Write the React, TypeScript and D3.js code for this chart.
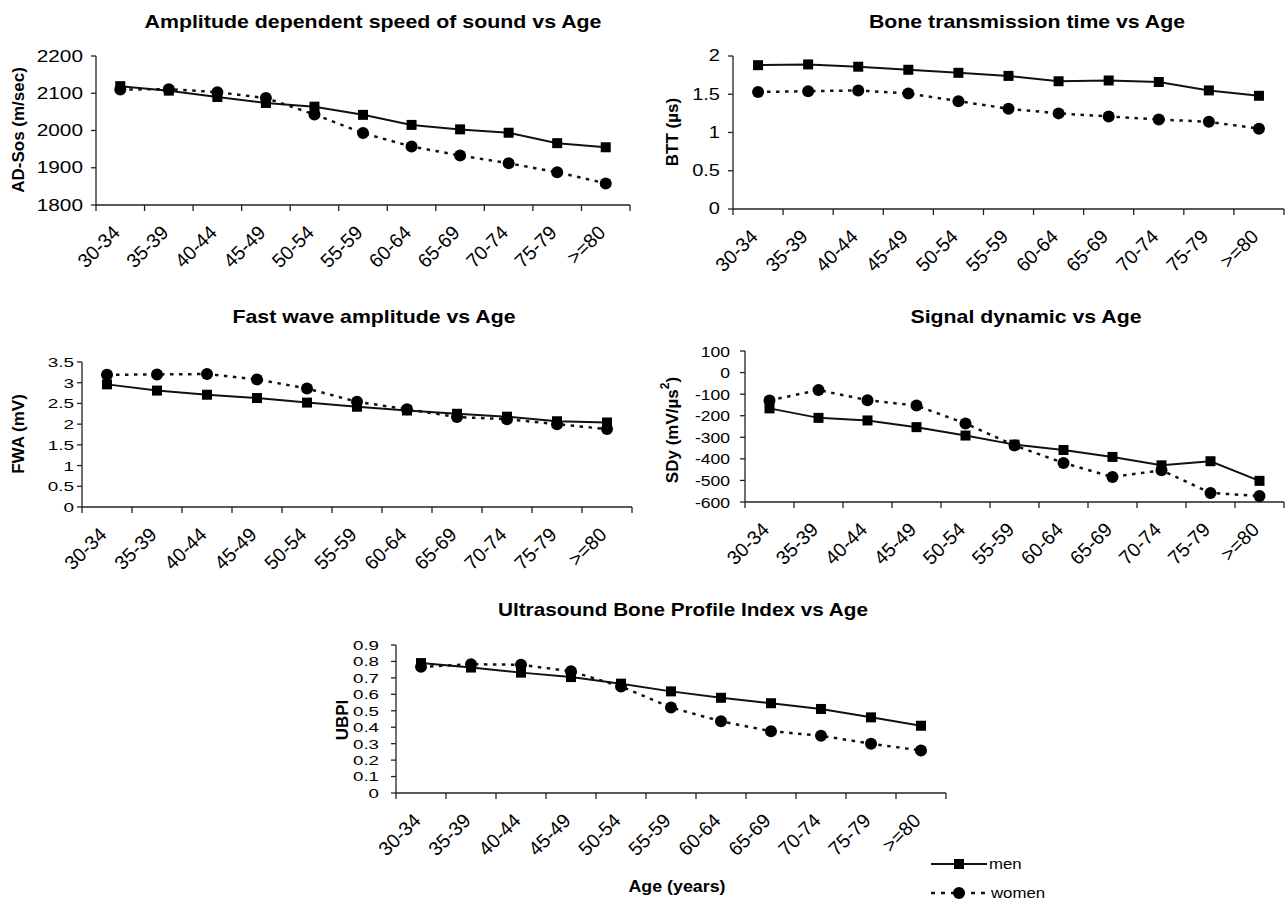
import React from "react";
import * as d3 from "d3";

const ageGroups = ["30-34", "35-39", "40-44", "45-49", "50-54", "55-59", "60-64", "65-69", "70-74", "75-79", ">=80"];

const adSosMen = [2119, 2107, 2090, 2074, 2064, 2042, 2015, 2003, 1994, 1966, 1955];
const adSosWomen = [2110, 2111, 2103, 2087, 2043, 1993, 1957, 1933, 1912, 1888, 1858];
const adSosTicks = [1800, 1900, 2000, 2100, 2200];

const bttMen = [1.88, 1.89, 1.86, 1.82, 1.78, 1.74, 1.67, 1.68, 1.66, 1.55, 1.48];
const bttWomen = [1.53, 1.54, 1.55, 1.51, 1.41, 1.31, 1.25, 1.21, 1.17, 1.14, 1.05];
const bttTicks = [0, 0.5, 1, 1.5, 2];

const fwaMen = [2.96, 2.81, 2.71, 2.63, 2.52, 2.42, 2.33, 2.25, 2.18, 2.07, 2.04];
const fwaWomen = [3.19, 3.2, 3.21, 3.08, 2.86, 2.54, 2.36, 2.17, 2.12, 2.0, 1.88];
const fwaTicks = [0, 0.5, 1, 1.5, 2, 2.5, 3, 3.5];

const sdyMen = [-166, -210, -222, -253, -292, -334, -359, -391, -430, -411, -502];
const sdyWomen = [-129, -81, -128, -153, -236, -338, -419, -484, -453, -558, -572];
const sdyTicks = [-600, -500, -400, -300, -200, -100, 0, 100];

const ubpiMen = [0.79, 0.763, 0.732, 0.705, 0.665, 0.618, 0.579, 0.546, 0.511, 0.46, 0.409];
const ubpiWomen = [0.767, 0.783, 0.78, 0.74, 0.648, 0.52, 0.436, 0.376, 0.348, 0.3, 0.258];
const ubpiTicks = [0, 0.1, 0.2, 0.3, 0.4, 0.5, 0.6, 0.7, 0.8, 0.9];

const FONT = "'Liberation Sans', Arial, Helvetica, sans-serif";

const panels = [
  {
    title: "Amplitude dependent speed of sound vs Age", yLabel: "AD-Sos (m/sec)",
    men: adSosMen, women: adSosWomen, ticks: adSosTicks,
    x0: 96, x1: 630, yTop: 56, yBot: 205,
    titleX: 373, titleY: 28, titleLen: 457, labX: 18, labY: 130,
    fs: 16, sx: 1.3, gap: 13,
  },
  {
    title: "Bone transmission time vs Age", yLabel: "BTT (\u00b5s)",
    men: bttMen, women: bttWomen, ticks: bttTicks,
    x0: 733, x1: 1284, yTop: 56, yBot: 209,
    titleX: 1027, titleY: 28, titleLen: 316, labX: 672, labY: 132,
    fs: 16, sx: 1.25, gap: 13,
  },
  {
    title: "Fast wave amplitude vs Age", yLabel: "FWA (mV)",
    men: fwaMen, women: fwaWomen, ticks: fwaTicks,
    x0: 82, x1: 632, yTop: 362, yBot: 507,
    titleX: 374, titleY: 323, titleLen: 283, labX: 18, labY: 434,
    fs: 13.5, sx: 1.4, gap: 8,
  },
  {
    title: "Signal dynamic vs Age", yLabel: "SDy (mV/\u00b5s",
    men: sdyMen, women: sdyWomen, ticks: sdyTicks,
    x0: 745, x1: 1284, yTop: 351, yBot: 502,
    titleX: 1026, titleY: 323, titleLen: 231, labX: 672, labY: 430,
    fs: 15, sx: 1.17, gap: 15,
  },
  {
    title: "Ultrasound Bone Profile Index vs Age", yLabel: "UBPI",
    men: ubpiMen, women: ubpiWomen, ticks: ubpiTicks,
    x0: 396, x1: 946, yTop: 645, yBot: 793,
    titleX: 683, titleY: 616, titleLen: 370, labX: 342, labY: 720,
    fs: 13, sx: 1.44, gap: 17,
  },
];

function Panel({ p, idx }: { p: any; idx: number }) {
  const x = d3.scaleBand<string>().domain(ageGroups).range([p.x0, p.x1]);
  const y = d3.scaleLinear()
    .domain([p.ticks[0], p.ticks[p.ticks.length - 1]])
    .range([p.yBot, p.yTop]);
  const cx = (i: number) => (x(ageGroups[i]) as number) + x.bandwidth() / 2;
  const line = d3.line<number>().x((_, i) => cx(i)).y(v => y(v));
  const bounds = d3.range(ageGroups.length + 1).map(i => p.x0 + i * x.bandwidth());

  return (
    <g>
      {/* title */}
      <text x={p.titleX} y={p.titleY} textAnchor="middle" fontSize={19} fontWeight="bold"
        textLength={p.titleLen} lengthAdjust="spacingAndGlyphs">{p.title}</text>

      {/* y label */}
      <text transform={`translate(${p.labX},${p.labY}) rotate(-90)`} textAnchor="middle"
        dominantBaseline="central" fontSize={17} fontWeight="bold">
        {p.yLabel}
        {idx === 3 && <tspan dy={-7} fontSize={12}>2</tspan>}
        {idx === 3 && <tspan dy={7}>)</tspan>}
      </text>

      {/* axes */}
      <line x1={p.x0} x2={p.x0} y1={p.yTop} y2={p.yBot} stroke="#222" strokeWidth={1.3} />
      <line x1={p.x0} x2={p.x1} y1={p.yBot} y2={p.yBot} stroke="#222" strokeWidth={1.3} />
      {p.ticks.map((t: number) => (
        <g key={t}>
          <line x1={p.x0 - 5} x2={p.x0} y1={y(t)} y2={y(t)} stroke="#222" strokeWidth={1.3} />
          <text transform={`translate(${p.x0 - p.gap},${y(t)}) scale(${p.sx},1)`} textAnchor="end"
            dominantBaseline="central" fontSize={p.fs}>{String(t)}</text>
        </g>
      ))}
      {bounds.map((b: number, i: number) => (
        <line key={i} x1={b} x2={b} y1={p.yBot} y2={p.yBot + 6} stroke="#222" strokeWidth={1.3} />
      ))}
      {ageGroups.map((g, i) => (
        <text key={g} transform={`translate(${cx(i) - 4},${p.yBot + 24}) rotate(-45)`}
          textAnchor="end" dy="0.35em" fontSize={19.5}>{g}</text>
      ))}

      {/* series */}
      <path d={line(p.men) as string} fill="none" stroke="#111" strokeWidth={2} />
      <path d={line(p.women) as string} fill="none" stroke="#111" strokeWidth={2.5} strokeDasharray="3.5,5.5" />
      {p.men.map((v: number, i: number) => (
        <rect key={i} x={cx(i) - 5} y={y(v) - 5} width={10} height={10} fill="#000" />
      ))}
      {p.women.map((v: number, i: number) => (
        <circle key={i} cx={cx(i)} cy={y(v)} r={6} fill="#000" />
      ))}
    </g>
  );
}

export default function App() {
  return (
    <svg width={1287} height={902} style={{ position: "absolute", left: 0, top: 0, background: "#fff" }}
      fontFamily={FONT} fill="#000">
      <rect width={1287} height={902} fill="#fff" />
      {panels.map((p, i) => <Panel key={i} p={p} idx={i} />)}

      <text x={677} y={892} textAnchor="middle" fontSize={17} fontWeight="bold"
        textLength={97} lengthAdjust="spacingAndGlyphs">Age (years)</text>

      {/* legend */}
      <line x1={931} x2={987} y1={864} y2={864} stroke="#111" strokeWidth={2} />
      <rect x={954} y={859} width={10} height={10} fill="#000" />
      <text transform="translate(989,864) scale(1.2,1)" dominantBaseline="central" fontSize={14}>men</text>
      <line x1={931} x2={990} y1={893} y2={893} stroke="#111" strokeWidth={2.5} strokeDasharray="4,6" />
      <circle cx={959} cy={893} r={6} fill="#000" />
      <text transform="translate(991,893) scale(1.2,1)" dominantBaseline="central" fontSize={14}>women</text>
    </svg>
  );
}
